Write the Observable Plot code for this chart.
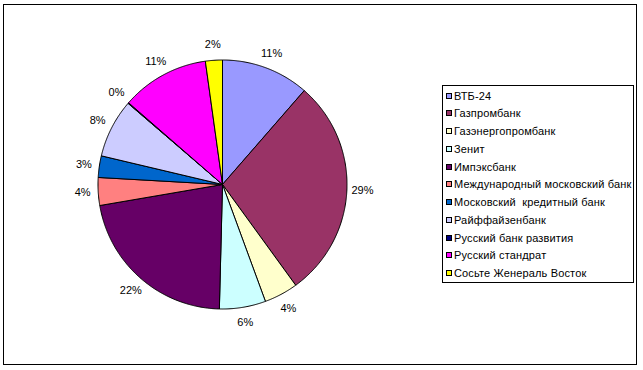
<!DOCTYPE html>
<html><head><meta charset="utf-8">
<script src="https://cdn.jsdelivr.net/npm/d3@7"></script>
<script src="https://cdn.jsdelivr.net/npm/@observablehq/plot@0.6"></script>
<style>
body{margin:0;background:#fff;font-family:Arial,"Liberation Sans",sans-serif;}
#wrap{position:relative;width:643px;height:370px;overflow:hidden;}
#chart{position:absolute;left:0;top:0;}
#frame{position:absolute;left:3px;top:4px;width:632px;height:359px;border:1px solid #000;}
#legend{position:absolute;left:442px;top:85px;width:190px;height:196px;border:1px solid #000;background:#fff;}
.item{position:absolute;left:0;height:14px;line-height:14px;font-size:11px;white-space:pre;color:#000;letter-spacing:0.15px;}
.sw{position:absolute;left:3px;top:4px;width:4px;height:4px;border:1px solid #000;}
.lb{position:absolute;left:11px;top:0;}
</style></head><body>
<div id="wrap"><div id="chart"></div><div id="frame"></div><div id="legend"></div></div>
<script>
const banks = ["ВТБ-24","Газпромбанк","Газэнергопромбанк","Зенит","Импэксбанк","Международный московский банк","Московский  кредитный банк","Райффайзенбанк","Русский банк развития","Русский стандрат","Сосьте Женераль Восток"];
const shares = [11.4, 28.6, 4.4, 6.0, 21.9, 3.6, 2.8, 7.6, 0.1, 11.4, 2.2];
const labels = ["11%","29%","4%","6%","22%","4%","3%","8%","0%","11%","2%"];
const colors = ["#9999FF","#993366","#FFFFCC","#CCFFFF","#660066","#FF8080","#0066CC","#CCCCFF","#000080","#FF00FF","#FFFF00"];

const total = d3.sum(shares);
const points = [];
const labelData = [];
let cum = 0;
banks.forEach((b, i) => {
  const a0 = cum / total * 2 * Math.PI;
  cum += shares[i];
  const a1 = cum / total * 2 * Math.PI;
  const n = Math.max(2, Math.ceil((a1 - a0) / (Math.PI / 360)));
  points.push({bank: b, x: 0, y: 0});
  for (let k = 0; k <= n; k++) {
    const a = a0 + (a1 - a0) * k / n;
    points.push({bank: b, x: Math.sin(a), y: Math.cos(a)});
  }
  points.push({bank: b, x: 0, y: 0});
  const am = (a0 + a1) / 2;
  labelData.push({bank: b, label: labels[i], x: 1.125 * Math.sin(am), y: 1.125 * Math.cos(am)});
});

const chart = Plot.plot({
  width: 643, height: 370,
  marginLeft: 97.5, marginRight: 296.5, marginTop: 59.5, marginBottom: 61.5,
  x: {domain: [-1, 1], axis: null},
  y: {domain: [-1, 1], axis: null},
  color: {domain: banks, range: colors},
  style: {background: "transparent", fontFamily: "Arial, 'Liberation Sans', sans-serif"},
  marks: [
    Plot.line(points, {x: "x", y: "y", z: "bank", fill: "bank", stroke: "#000", strokeWidth: 1, curve: "linear", strokeLinejoin: "miter"}),
    Plot.text(labelData, {x: "x", y: "y", text: "label", fontSize: 11, fill: "#000"})
  ]
});
document.getElementById("chart").appendChild(chart);

const legend = document.getElementById("legend");
banks.forEach((b, i) => {
  const it = document.createElement("div");
  it.className = "item";
  it.style.top = (2.5 + i * 17.76) + "px";
  const sw = document.createElement("div");
  sw.className = "sw";
  sw.style.background = colors[i];
  const lb = document.createElement("span");
  lb.className = "lb";
  lb.textContent = b;
  it.appendChild(sw); it.appendChild(lb);
  legend.appendChild(it);
});
</script>
</body></html>
